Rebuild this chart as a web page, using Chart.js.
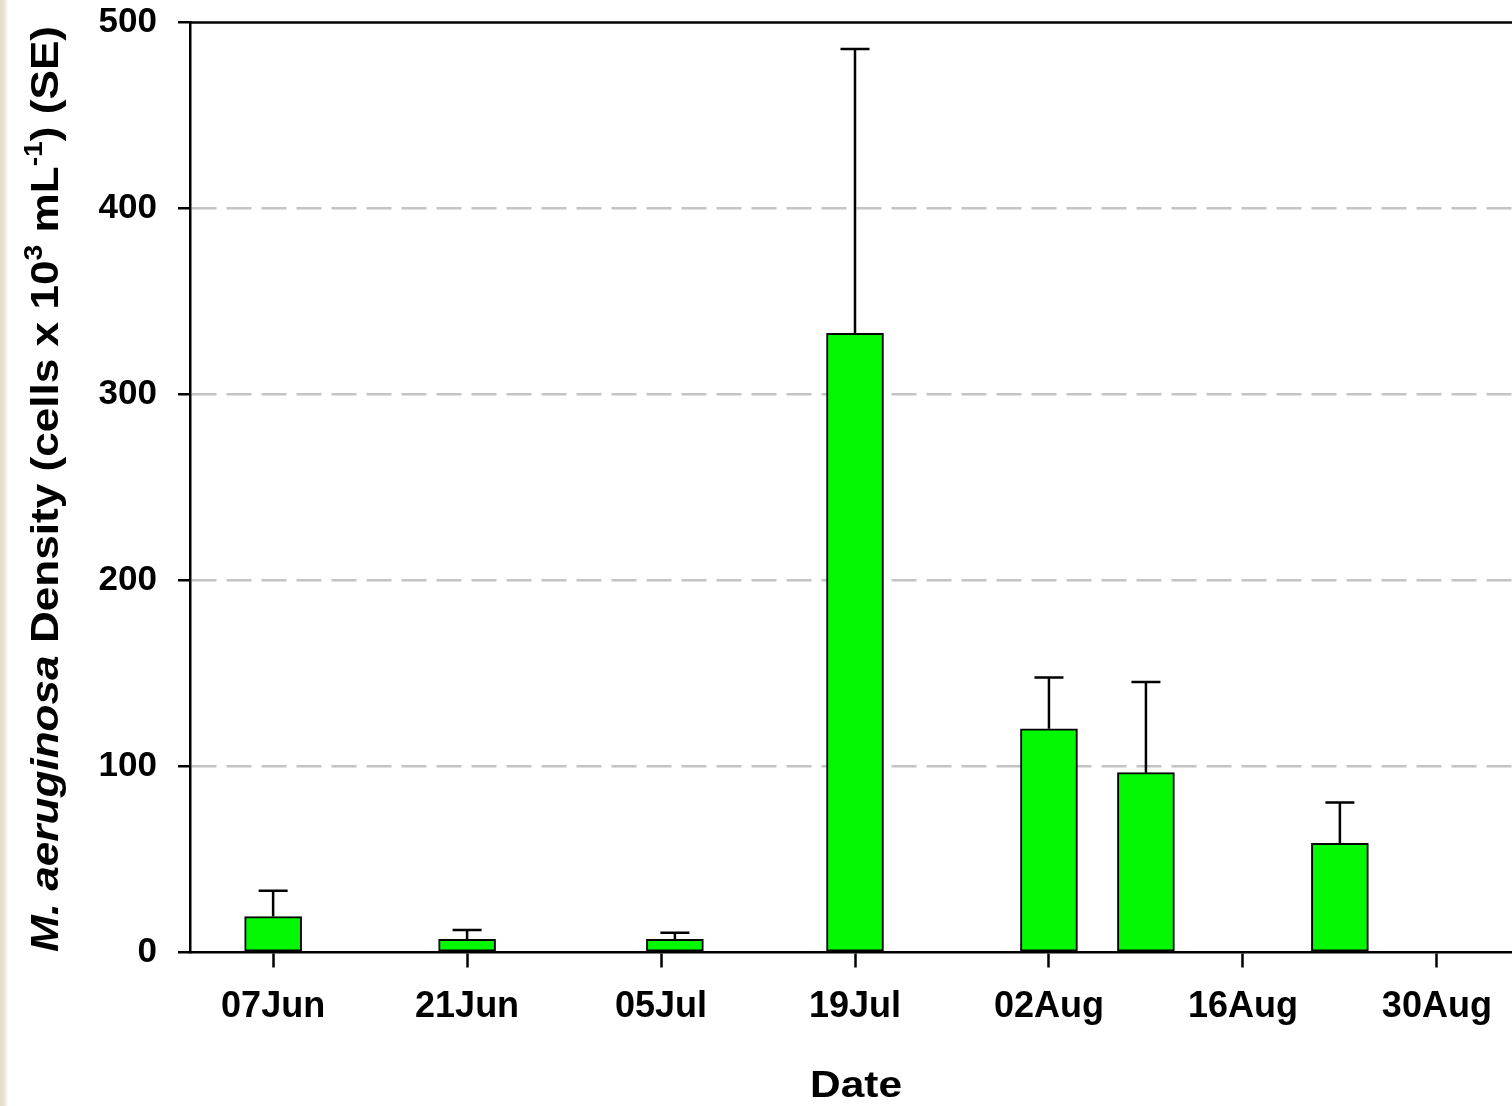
<!DOCTYPE html>
<html>
<head>
<meta charset="utf-8">
<title>M. aeruginosa density by date</title>
<script src="https://cdn.jsdelivr.net/npm/chart.js@4.4.1/dist/chart.umd.min.js"></script>
<style>
  html, body { margin: 0; padding: 0; background: #ffffff; overflow: hidden; }
  #wrap { position: relative; width: 1512px; height: 1106px; overflow: hidden; }
  #edge { position: absolute; left: 0; top: 0; width: 8px; height: 1106px;
          background: linear-gradient(to right, #e4dccb 0%, #ebe5d8 60%, #ffffff 100%); z-index: 2; }
  canvas { position: absolute; left: 0; top: 0; }
</style>
</head>
<body>
<div id="wrap">
  <div id="edge"></div>
  <canvas id="chart" width="1520" height="1106"></canvas>
</div>
<script>
// Sampling dates, mean density (cells x 10^3 mL^-1) and standard error
const sampleDates = ['07Jun', '21Jun', '06Jul', '19Jul', '02Aug', '09Aug', '23Aug'];
const meanDensity = [19.3, 7.1, 7.1, 332.9, 120.3, 96.7, 58.7];
const stdError    = [13.9, 5.0, 3.5, 152.9, 27.5, 48.7, 22.0];

// Axis ticks
const tickDates = ['07Jun', '21Jun', '05Jul', '19Jul', '02Aug', '16Aug', '30Aug'];
const yTicks = [0, 100, 200, 300, 400, 500];
const axisStart = '01Jun';
const axisEnd = '05Sep';

// Convert "DDMon" to day of year (non-leap year)
const monthStart = { Jan: 0, Feb: 31, Mar: 59, Apr: 90, May: 120, Jun: 151, Jul: 181, Aug: 212, Sep: 243, Oct: 273, Nov: 304, Dec: 334 };
function dayOfYear(label) {
  return monthStart[label.slice(2)] + parseInt(label.slice(0, 2), 10);
}

const sampleDays = sampleDates.map(dayOfYear);
const tickDays = tickDates.map(dayOfYear);

const FONT = "'Liberation Sans', Arial, Helvetica, sans-serif";

// Vertical error bars (upper whisker only), drawn through the chart scales
const errorBars = {
  id: 'errorBars',
  afterDatasetsDraw(chart) {
    const { ctx, scales: { x, y } } = chart;
    ctx.save();
    ctx.strokeStyle = '#000000';
    ctx.lineWidth = 2.5;
    ctx.lineCap = 'butt';
    sampleDays.forEach((d, i) => {
      const px = x.getPixelForValue(d);
      const yBar = y.getPixelForValue(meanDensity[i]);
      const yCap = y.getPixelForValue(meanDensity[i] + stdError[i]);
      ctx.beginPath();
      ctx.moveTo(px, yBar);
      ctx.lineTo(px, yCap);
      ctx.moveTo(px - 14.5, yCap);
      ctx.lineTo(px + 14.5, yCap);
      ctx.stroke();
    });
    ctx.restore();
  }
};

// Top frame line and axis titles with italic species name and superscripts
const frameAndTitles = {
  id: 'frameAndTitles',
  afterDraw(chart) {
    const { ctx, chartArea } = chart;
    ctx.save();
    ctx.strokeStyle = '#000000';
    ctx.lineWidth = 2.5;
    ctx.beginPath();
    ctx.moveTo(chartArea.left - 1, chartArea.top);
    ctx.lineTo(chartArea.right, chartArea.top);
    ctx.stroke();

    // x-axis title, slightly widened type
    ctx.fillStyle = '#000000';
    ctx.font = 'bold 37px ' + FONT;
    ctx.textAlign = 'center';
    ctx.textBaseline = 'alphabetic';
    const dateW = ctx.measureText('Date').width;
    const dateSx = 92 / dateW;
    ctx.save();
    ctx.translate((chartArea.left + chartArea.right) / 2 + 1, 1097);
    ctx.scale(dateSx, 1);
    ctx.fillText('Date', 0, 0);
    ctx.restore();

    // y-axis title
    const big = 39, small = 25;
    const parts = [
      { t: 'M. aeruginosa', f: 'italic bold ' + big + 'px ' + FONT, dy: 0 },
      { t: ' Density (cells x 10', f: 'bold ' + big + 'px ' + FONT, dy: 0 },
      { t: '3', f: 'bold ' + small + 'px ' + FONT, dy: -16 },
      { t: ' mL', f: 'bold ' + big + 'px ' + FONT, dy: 0 },
      { t: '-1', f: 'bold ' + small + 'px ' + FONT, dy: -16 },
      { t: ') (SE)', f: 'bold ' + big + 'px ' + FONT, dy: 0 }
    ];
    let total = 0;
    parts.forEach(p => { ctx.font = p.f; p.w = ctx.measureText(p.t).width; total += p.w; });
    const span = 926;
    const centerY = 489;
    ctx.translate(58, centerY + span / 2);
    ctx.rotate(-Math.PI / 2);
    ctx.scale(span / total, 1);
    ctx.textAlign = 'left';
    let pos = 0;
    parts.forEach(p => {
      ctx.font = p.f;
      ctx.fillText(p.t, pos, p.dy);
      pos += p.w;
    });
    ctx.restore();
  }
};

new Chart(document.getElementById('chart'), {
  type: 'bar',
  data: {
    datasets: [{
      data: sampleDays.map((d, i) => ({ x: d, y: meanDensity[i] })),
      backgroundColor: '#04f804',
      borderColor: '#000000',
      borderWidth: 2,
      borderSkipped: false,
      barThickness: 57
    }]
  },
  options: {
    responsive: false,
    animation: false,
    layout: { padding: { top: 22.5, right: 0, left: 0, bottom: 0 } },
    plugins: { legend: { display: false }, tooltip: { enabled: false }, title: { display: false } },
    scales: {
      x: {
        type: 'linear',
        min: dayOfYear(axisStart),
        max: dayOfYear(axisEnd),
        offset: false,
        afterBuildTicks(scale) { scale.ticks = tickDays.map(v => ({ value: v })); },
        afterFit(scale) {
          scale.height = 153.5;
          scale.paddingLeft = 0;
          scale.paddingRight = 0;
        },
        ticks: {
          autoSkip: false,
          maxRotation: 0,
          color: '#000000',
          padding: 18,
          font: { family: FONT, size: 36, weight: 'bold' },
          callback(value) {
            const i = tickDays.indexOf(value);
            return i >= 0 ? tickDates[i] : '';
          }
        },
        grid: { offset: false, drawOnChartArea: false, drawTicks: true, tickLength: 15, tickWidth: 2.5, tickColor: '#000000' },
        border: { display: true, color: '#000000', width: 2.5 }
      },
      y: {
        min: yTicks[0],
        max: yTicks[yTicks.length - 1],
        afterBuildTicks(scale) { scale.ticks = yTicks.map(v => ({ value: v })); },
        afterFit(scale) {
          scale.width = 190;
          scale.paddingTop = 0;
          scale.paddingBottom = 0;
        },
        ticks: {
          color: '#000000',
          padding: 21,
          font: { family: FONT, size: 35, weight: 'bold' }
        },
        grid: {
          drawTicks: true,
          tickLength: 12,
          tickWidth: 2.5,
          tickColor: '#000000',
          lineWidth: 2.5,
          color(ctx) {
            const v = ctx.tick && ctx.tick.value;
            return (v === yTicks[0] || v === yTicks[yTicks.length - 1]) ? 'rgba(0,0,0,0)' : '#c4c4c4';
          }
        },
        border: { display: true, color: '#000000', width: 2.5, dash: [25, 10] }
      }
    }
  },
  plugins: [errorBars, frameAndTitles]
});
</script>
</body>
</html>
